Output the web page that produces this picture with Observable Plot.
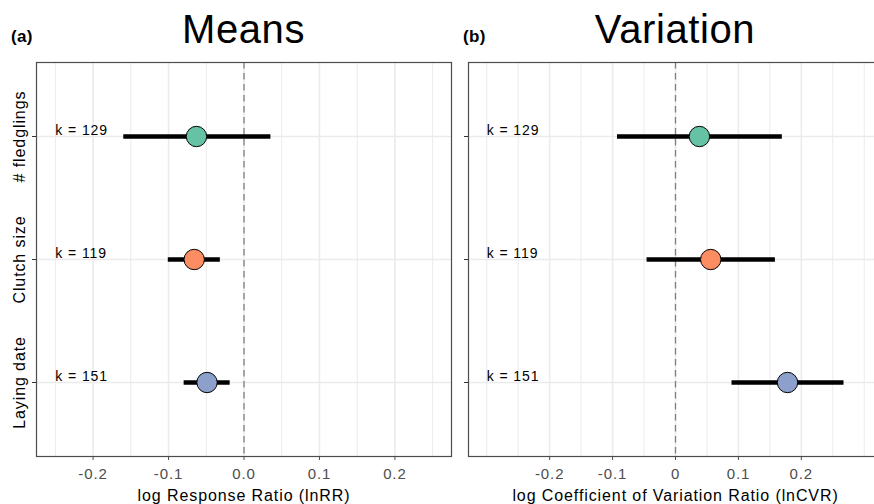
<!DOCTYPE html>
<html>
<head>
<meta charset="utf-8">
<script src="https://cdn.jsdelivr.net/npm/d3@7"></script>
<script src="https://cdn.jsdelivr.net/npm/@observablehq/plot@0.6"></script>
<style>
  html, body { margin: 0; padding: 0; background: #fff; overflow: hidden; }
  #wrap { position: relative; width: 874px; height: 504px; overflow: hidden; font-family: "Liberation Sans", Arial, sans-serif; }
  .panel { position: absolute; top: 0; height: 504px; }
  .panel svg { max-width: none !important; height: 504px !important; }
  .title { position: absolute; font-size: 40px; line-height: 40px; letter-spacing: 0.6px; text-align: center; color: #000; white-space: nowrap; }
  .tag { position: absolute; font-size: 17px; line-height: 17px; font-weight: bold; color: #000; letter-spacing: 0.3px; }
</style>
</head>
<body>
<div id="wrap">
  <div class="tag" style="left:11px; top:28px;">(a)</div>
  <div class="tag" style="left:463px; top:28px;">(b)</div>
  <div class="title" style="left:36px; width:415px; top:9px;">Means</div>
  <div class="title" style="left:468px; width:414px; top:9px;">Variation</div>
  <div class="panel" id="left" style="left:0px; width:452px;"></div>
  <div class="panel" id="right" style="left:452px; width:430px;"></div>
</div>
<script>
// ---- data ----
const categories = ["# fledglings", "Clutch size", "Laying date"];
const kLabels = ["k = 129", "k = 119", "k = 151"];
const colors = ["#66C2A5", "#FC8D62", "#8DA0CB"];

const meanEstimate = [-0.063, -0.066, -0.049];
const meanLower = [-0.160, -0.101, -0.080];
const meanUpper = [0.035, -0.032, -0.019];

const varEstimate = [0.038, 0.056, 0.178];
const varLower = [-0.093, -0.046, 0.089];
const varUpper = [0.169, 0.158, 0.267];

const tickValues = [-0.2, -0.1, 0, 0.1, 0.2];
const leftMinorGrid = [-0.25, -0.15, -0.05, 0.05, 0.15, 0.25];
const rightMinorGrid = [-0.3, -0.25, -0.15, -0.05, 0.05, 0.15, 0.25, 0.3];

function rows(est, lo, hi) {
  return categories.map((c, i) => ({cat: c, k: kLabels[i], color: colors[i], est: est[i], lo: lo[i], hi: hi[i]}));
}

function panel({data, domain, width, marginLeft, marginRight, kx, xLabel, tickFormat, minor, yLabels}) {
  const marks = [
    Plot.ruleX(minor, {stroke: "#EBEBEB", strokeWidth: 1}),
    Plot.ruleX(tickValues, {stroke: "#EBEBEB", strokeWidth: 1.6}),
    Plot.ruleY(categories, {y: d => d, stroke: "#EBEBEB", strokeWidth: 1.6}),
    Plot.ruleX([0], {stroke: "#7F7F7F", strokeWidth: 1.3, strokeDasharray: "6.5,4.5"}),
    Plot.link(data, {x1: "lo", x2: "hi", y1: "cat", y2: "cat", stroke: "#000", strokeWidth: 4.5}),
    Plot.dot(data, {x: "est", y: "cat", r: 10.2, fill: "color", stroke: "#000", strokeWidth: 1}),
    Plot.text(data, {x: () => kx, y: "cat", text: "k", textAnchor: "start", dy: -6, fontSize: 14, fill: "#000"}),
    Plot.frame({stroke: "#4D4D4D", strokeWidth: 1.2}),
    Plot.axisX({ticks: tickValues, tickFormat, tickSize: 4, tickPadding: 8, fontSize: 15, color: "#4D4D4D", label: null}),
    Plot.axisY({tickSize: 4, tickFormat: () => "", stroke: "#333", label: null}),
    Plot.text([xLabel], {frameAnchor: "bottom", lineAnchor: "middle", dy: 39, fontSize: 16, fill: "#000"})
  ];
  if (yLabels) {
    marks.push(Plot.text(categories, {y: d => d, text: d => d, frameAnchor: "left", textAnchor: "middle", dx: -17, rotate: -90, fontSize: 16, fill: "#000"}));
  }
  return Plot.plot({
    width, height: 504,
    marginLeft, marginRight, marginTop: 62, marginBottom: 48,
    style: {fontFamily: "'Liberation Sans', Arial, sans-serif", background: "transparent", overflow: "visible", maxWidth: "none", letterSpacing: "0.9px"},
    x: {domain, label: null},
    y: {type: "point", domain: categories, padding: 0.6, label: null},
    marks
  });
}

document.getElementById("left").append(panel({
  data: rows(meanEstimate, meanLower, meanUpper),
  domain: [-0.275, 0.275], width: 452, marginLeft: 36, marginRight: 1,
  kx: -0.25, xLabel: "log Response Ratio (lnRR)",
  tickFormat: d => d.toFixed(1), minor: leftMinorGrid, yLabels: true
}));

document.getElementById("right").append(panel({
  data: rows(varEstimate, varLower, varUpper),
  domain: [-0.329, 0.329], width: 430, marginLeft: 16, marginRight: 0,
  kx: -0.3, xLabel: "log Coefficient of Variation Ratio (lnCVR)",
  tickFormat: d => d === 0 ? "0" : d.toFixed(1), minor: rightMinorGrid, yLabels: false
}));
</script>
</body>
</html>
